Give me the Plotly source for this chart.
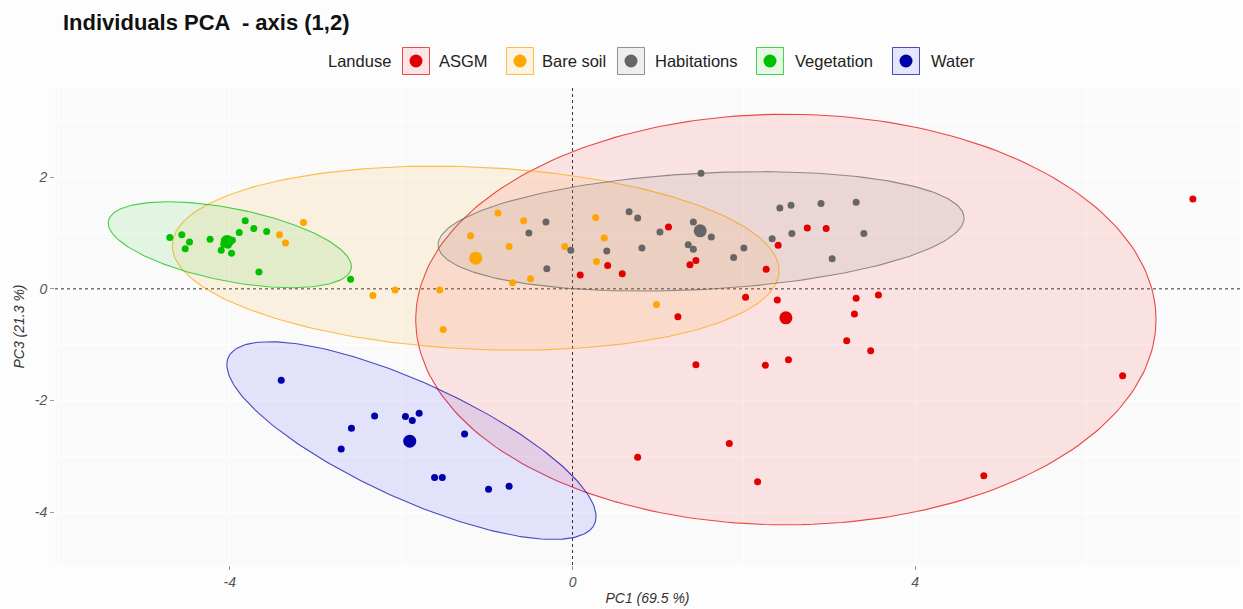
import numpy as np
import plotly.graph_objects as go

# ---- data: PCA individual coordinates (PC1, PC3) per land-use class ----
groups = ["ASGM", "Bare soil", "Habitations", "Vegetation", "Water"]
colors = ["#E30000", "#FFA500", "#666666", "#00C000", "#0000A8"]
fill_colors = ["#FF1010", "#FFA000", "#707070", "#10D010", "#1010FF"]

asgm_x = [1.12, 1.37, 1.44, 0.41, 0.58, 0.09, 2.74, 2.96, 2.40, 2.26, 2.02, 2.39, 3.31, 3.57,
          1.23, 3.29, 3.20, 3.48, 1.44, 2.25, 2.52, 1.83, 0.76, 2.16, 7.24, 6.42, 4.80]
asgm_y = [1.11, 0.43, 0.51, 0.42, 0.27, 0.25, 1.09, 1.08, 0.78, 0.35, -0.15, -0.20, -0.17, -0.11,
          -0.50, -0.45, -0.93, -1.11, -1.36, -1.37, -1.27, -2.77, -3.02, -3.46, 1.61, -1.56, -3.35]

bare_x = [-3.14, -3.42, -3.35, -2.33, -2.07, -1.55, -1.51, -0.87, -0.57, -1.19, -0.74, -0.09,
          -0.70, -0.49, 0.27, 0.37, 0.28, 0.98]
bare_y = [1.19, 0.97, 0.82, -0.12, -0.02, -0.02, -0.73, 1.36, 1.22, 0.95, 0.76, 0.76,
          0.11, 0.18, 1.28, 0.91, 0.49, -0.28]

hab_x = [-0.31, -0.51, -0.30, -0.02, 0.66, 0.76, 1.02, 0.81, 0.40, 1.41, 1.35, 1.41, 1.50, 1.62,
         2.00, 1.88, 2.33, 2.42, 2.55, 2.90, 3.31, 2.56, 3.40, 3.03]
hab_y = [1.20, 1.00, 0.36, 0.69, 1.38, 1.27, 1.02, 0.73, 0.68, 1.20, 0.79, 0.71, 2.07, 0.93,
         0.73, 0.56, 0.90, 1.45, 1.50, 1.53, 1.55, 0.99, 0.99, 0.54]

veg_x = [-4.70, -4.56, -4.47, -4.52, -4.23, -3.82, -3.89, -3.72, -3.57, -4.10, -3.98, -4.07,
         -3.97, -4.02, -3.66, -2.59]
veg_y = [0.92, 0.97, 0.84, 0.72, 0.89, 1.22, 1.01, 1.08, 1.03, 0.69, 0.64, 0.80,
         0.87, 0.78, 0.30, 0.17]

water_x = [-3.40, -2.31, -2.58, -2.70, -1.95, -1.87, -1.79, -1.26, -1.61, -1.52, -0.98, -0.74]
water_y = [-1.64, -2.28, -2.50, -2.87, -2.29, -2.36, -2.23, -2.60, -3.38, -3.38, -3.59, -3.54]

# group barycentres
centre_x = [2.49, -1.13, 1.49, -4.03, -1.90]
centre_y = [-0.52, 0.55, 1.04, 0.85, -2.73]

# concentration ellipses: centre, semi-axes and rotation (radians, data space)
ell_cx = [2.49, -1.13, 1.50, -4.00, -1.88]
ell_cy = [-0.55, 0.55, 1.03, 0.79, -2.72]
ell_a = [4.32, 3.55, 3.08, 1.485, 2.63]
ell_b = [3.68, 1.63, 1.04, 0.635, 0.93]
ell_rot = [0.0, -0.08, 0.088, -0.331, -0.66]

xs = [asgm_x, bare_x, hab_x, veg_x, water_x]
ys = [asgm_y, bare_y, hab_y, veg_y, water_y]

x_range = [-6.04, 7.79]
y_range = [-4.95, 3.60]


def rgba(hex_col, alpha):
    h = hex_col.lstrip("#")
    r, g, b = int(h[0:2], 16), int(h[2:4], 16), int(h[4:6], 16)
    return f"rgba({r},{g},{b},{alpha})"


fig = go.Figure()

# reference lines through the origin
fig.add_trace(go.Scatter(x=x_range, y=[0, 0], mode="lines", hoverinfo="skip", showlegend=False,
                         line=dict(color="#333333", width=1, dash="3px,3px")))
fig.add_trace(go.Scatter(x=[0, 0], y=y_range, mode="lines", hoverinfo="skip", showlegend=False,
                         line=dict(color="#333333", width=1, dash="3px,3px")))

t = np.linspace(0, 2 * np.pi, 240)
for i, g in enumerate(groups):
    c, s = np.cos(ell_rot[i]), np.sin(ell_rot[i])
    ex = ell_cx[i] + ell_a[i] * np.cos(t) * c - ell_b[i] * np.sin(t) * s
    ey = ell_cy[i] + ell_a[i] * np.cos(t) * s + ell_b[i] * np.sin(t) * c
    fig.add_trace(go.Scatter(x=ex, y=ey, mode="lines", fill="toself", showlegend=False,
                             hoverinfo="skip", fillcolor=rgba(fill_colors[i], 0.1),
                             line=dict(color=rgba(colors[i], 0.7), width=1.1)))

for i, g in enumerate(groups):
    fig.add_trace(go.Scatter(x=xs[i], y=ys[i], mode="markers", name=g, showlegend=False,
                             marker=dict(color=colors[i], size=7, line=dict(width=0))))

for i, g in enumerate(groups):
    fig.add_trace(go.Scatter(x=[centre_x[i]], y=[centre_y[i]], mode="markers", showlegend=False,
                             name=g, marker=dict(color=colors[i], size=13, line=dict(width=0))))

# ---- legend drawn as keys + labels above the panel ----
L, R, T, B = 55, 1240, 88, 565


def px_x(p):
    return (p - L) / (R - L)


def px_y(p):
    return (B - p) / (B - T)


shapes = []
annotations = []
key_centres = [416, 520, 631, 770, 906]
label_left = [437, 540, 653, 793, 929]
key_y = 61
legend_font = dict(family="Liberation Sans, Arial", size=16.5, color="#222222")
annotations.append(dict(x=px_x(393), y=px_y(key_y), xref="paper", yref="paper", text="Landuse",
                        showarrow=False, xanchor="right", yanchor="middle", font=legend_font))
for i, g in enumerate(groups):
    shapes.append(dict(type="rect", xref="paper", yref="paper", xsizemode="pixel", ysizemode="pixel",
                       xanchor=px_x(key_centres[i]), yanchor=px_y(key_y),
                       x0=-13.5, x1=13.5, y0=-13.5, y1=13.5,
                       line=dict(color=rgba(colors[i], 0.7), width=1),
                       fillcolor=rgba(fill_colors[i], 0.1)))
    shapes.append(dict(type="circle", xref="paper", yref="paper", xsizemode="pixel", ysizemode="pixel",
                       xanchor=px_x(key_centres[i]), yanchor=px_y(key_y),
                       x0=-6.5, x1=6.5, y0=-6.5, y1=6.5,
                       line=dict(width=0), fillcolor=colors[i]))
    annotations.append(dict(x=px_x(label_left[i]), y=px_y(key_y), xref="paper", yref="paper", text=g,
                            showarrow=False, xanchor="left", yanchor="middle", font=legend_font))

axis_font = dict(family="Liberation Sans, Arial", size=14, color="#555555", style="italic")
title_font = dict(family="Liberation Sans, Arial", size=14, color="#333333", style="italic")

fig.update_layout(
    width=1243, height=609,
    margin=dict(l=L, r=1243 - R, t=T, b=609 - B),
    paper_bgcolor="#fdfdfd",
    plot_bgcolor="#fafafa",
    showlegend=False,
    title=dict(text="<b>Individuals PCA  - axis (1,2)</b>", x=63 / 1243, xanchor="left",
               y=1 - 22 / 609, yanchor="middle",
               font=dict(family="Liberation Sans, Arial", size=22, color="#111111")),
    shapes=shapes,
    annotations=annotations,
    xaxis=dict(range=x_range, tickvals=[-4, 0, 4], ticktext=["-4", "0", "4"],
               showgrid=True, gridcolor="#ffffff", gridwidth=1.2, zeroline=False,
               ticks="outside", ticklen=4, tickcolor="#999999", tickfont=axis_font,
               minor=dict(tickvals=[-6, -2, 2, 6], showgrid=True, gridcolor="#ffffff", gridwidth=0.6),
               title=dict(text="PC1 (69.5 %)", font=title_font, standoff=4),
               showline=False),
    yaxis=dict(range=y_range, tickvals=[-4, -2, 0, 2], ticktext=["-4", "-2", "0", "2"],
               showgrid=True, gridcolor="#ffffff", gridwidth=1.2, zeroline=False,
               ticks="outside", ticklen=4, tickcolor="#999999", tickfont=axis_font,
               minor=dict(tickvals=[-3, -1, 1, 3], showgrid=True, gridcolor="#ffffff", gridwidth=0.6),
               title=dict(text="PC3 (21.3 %)", font=title_font, standoff=6),
               showline=False),
)

fig.write_html("out.html")
